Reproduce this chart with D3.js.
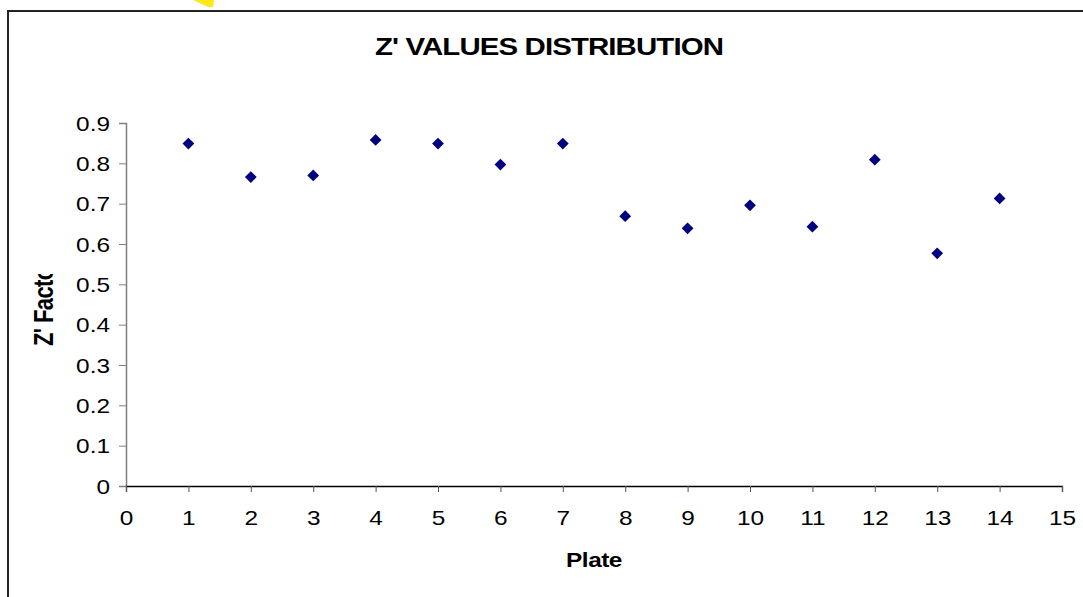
<!DOCTYPE html>
<html>
<head>
<meta charset="utf-8">
<script src="https://cdn.jsdelivr.net/npm/d3@7"></script>
<style>
  body { margin: 0; background: #fff; }
  svg { display: block; font-family: "Liberation Sans", Arial, sans-serif; }
</style>
</head>
<body>
<div id="chart"></div>
<script>
// data
var plates = [1, 2, 3, 4, 5, 6, 7, 8, 9, 10, 11, 12, 13, 14];
var zFactor = [0.849, 0.766, 0.770, 0.858, 0.849, 0.797, 0.849, 0.669, 0.639, 0.696, 0.643, 0.809, 0.577, 0.713];
var xTicks = d3.range(0, 16);
var yTicks = [0, 0.1, 0.2, 0.3, 0.4, 0.5, 0.6, 0.7, 0.8, 0.9];

var width = 1083, height = 597;
var margin = {top: 123, right: 21, bottom: 111, left: 126};
var stretch = 1.22; // the original text is a bit wide

var svg = d3.select('#chart').append('svg')
  .attr('width', width)
  .attr('height', height);

// little yellow callout peeking in at the top
svg.append('polygon')
  .attr('points', '193,0 214,0 213,7 208,7')
  .attr('fill', '#ffe81a');

// chart frame
svg.append('rect')
  .attr('x', 8).attr('y', 11)
  .attr('width', 1090).attr('height', 600)
  .attr('fill', 'none')
  .attr('stroke', '#222')
  .attr('stroke-width', 2);

var x = d3.scaleLinear().domain([0, 15]).range([margin.left, width - margin.right]);
var y = d3.scaleLinear().domain([0, 0.9]).range([height - margin.bottom, margin.top]);

var xAxis = d3.axisBottom(x).tickValues(xTicks).tickFormat(d3.format('d')).tickSizeOuter(0).tickSize(6).tickPadding(19);
var yAxis = d3.axisLeft(y).tickValues(yTicks).tickFormat(function(d) { return d === 0 ? '0' : d3.format('.1f')(d); })
  .tickSizeOuter(0).tickSize(7).tickPadding(9);

var gy = svg.append('g')
  .attr('transform', 'translate(' + margin.left + ',0)')
  .call(yAxis);
gy.select('.domain').attr('stroke', '#808080').attr('stroke-width', 1.5);
gy.selectAll('.tick line').attr('stroke', '#808080');
gy.selectAll('.tick text')
  .attr('font-size', 20).attr('fill', '#000').attr('dy', '0.36em')
  .attr('x', -16 / stretch)
  .attr('transform', 'scale(' + stretch + ',1)');

var gx = svg.append('g')
  .attr('transform', 'translate(0,' + y(0) + ')')
  .call(xAxis);
gx.select('.domain').attr('stroke', '#000').attr('stroke-width', 1.3);
gx.selectAll('.tick line').attr('stroke', '#555');
gx.selectAll('.tick text')
  .attr('font-size', 20).attr('fill', '#000')
  .attr('transform', 'scale(' + stretch + ',1)');

// points
var diamond = d3.symbol().type(d3.symbolDiamond2).size(88);
svg.append('g').selectAll('path')
  .data(plates)
  .enter().append('path')
  .attr('d', diamond)
  .attr('transform', function(d, i) { return 'translate(' + x(d) + ',' + y(zFactor[i]) + ')'; })
  .attr('fill', '#000080');

// title
svg.append('text')
  .attr('transform', 'translate(549,55) scale(1.28,1)')
  .attr('text-anchor', 'middle')
  .attr('font-size', 23)
  .attr('font-weight', 'bold')
  .attr('letter-spacing', -0.7)
  .text("Z' VALUES DISTRIBUTION");

// x axis title
svg.append('text')
  .attr('transform', 'translate(' + (x(0) + x(15)) / 2 + ',567) scale(' + stretch + ',1)')
  .attr('text-anchor', 'middle')
  .attr('font-size', 20)
  .attr('font-weight', 'bold')
  .attr('letter-spacing', -0.4)
  .text('Plate');

// y axis title, cut off like the original
var yClip = svg.append('defs').append('clipPath')
  .attr('id', 'ylab')
  .attr('clipPathUnits', 'userSpaceOnUse');
yClip.append('rect').attr('x', 0).attr('y', 274).attr('width', 90).attr('height', 90);
svg.append('g')
  .attr('clip-path', 'url(#ylab)')
  .append('text')
  .attr('transform', 'translate(53,346) rotate(-90) scale(1,' + stretch + ')')
  .attr('font-size', 22)
  .attr('font-weight', 'bold')
  .attr('letter-spacing', -0.6)
  .text("Z' Factor");
</script>
</body>
</html>
